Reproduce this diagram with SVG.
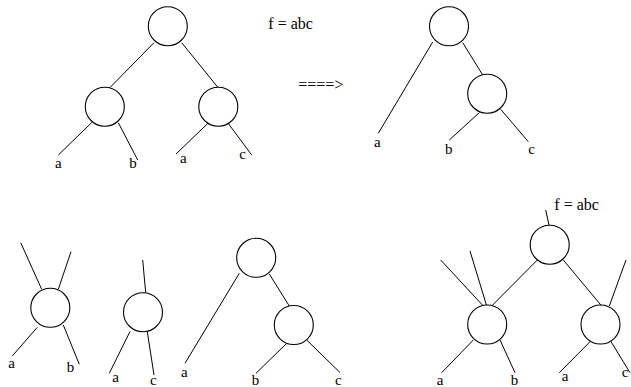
<svg xmlns="http://www.w3.org/2000/svg" width="631" height="387" viewBox="0 0 631 387">
<style>
.n{fill:#fff;stroke:#000;stroke-width:1.1}
.e{stroke:#000;stroke-width:1;fill:none}
</style>
<rect width="631" height="387" fill="#fff"/>
<g id="connectors">
<line class="e" x1="154" y1="42.7" x2="110" y2="87.5"/>
<line class="e" x1="181.7" y1="42.7" x2="218" y2="87.5"/>
<line class="e" x1="92.3" y1="122" x2="58.3" y2="155"/>
<line class="e" x1="118.3" y1="122.7" x2="137.7" y2="160"/>
<line class="e" x1="209.3" y1="122" x2="176" y2="154"/>
<line class="e" x1="227.7" y1="122.7" x2="251.7" y2="155"/>
<line class="e" x1="432.7" y1="42" x2="378.3" y2="133.3"/>
<line class="e" x1="462.7" y1="42.7" x2="482.7" y2="75"/>
<line class="e" x1="479.3" y1="112.7" x2="449.3" y2="140"/>
<line class="e" x1="500.7" y1="109.3" x2="528.3" y2="141.7"/>
<line class="e" x1="20.7" y1="242.7" x2="41.7" y2="289.3"/>
<line class="e" x1="71" y1="251.7" x2="58.3" y2="289.3"/>
<line class="e" x1="37.3" y1="327.3" x2="12.3" y2="356"/>
<line class="e" x1="63.3" y1="325" x2="79.3" y2="364.3"/>
<line class="e" x1="142.7" y1="260" x2="145.7" y2="292.7"/>
<line class="e" x1="130" y1="331.5" x2="109.3" y2="373.3"/>
<line class="e" x1="147.3" y1="331.7" x2="154" y2="375"/>
<line class="e" x1="239.3" y1="273.3" x2="185" y2="363.3"/>
<line class="e" x1="269.3" y1="274" x2="289.3" y2="306"/>
<line class="e" x1="286" y1="344" x2="256" y2="373.3"/>
<line class="e" x1="306.7" y1="340" x2="340" y2="372.5"/>
<line class="e" x1="545.7" y1="210" x2="549" y2="225"/>
<line class="e" x1="537.3" y1="260" x2="491.7" y2="306"/>
<line class="e" x1="563.3" y1="260" x2="601.7" y2="306"/>
<line class="e" x1="440.7" y1="260" x2="483.3" y2="306"/>
<line class="e" x1="470" y1="251" x2="486.7" y2="306"/>
<line class="e" x1="626" y1="260" x2="609.3" y2="306"/>
<line class="e" x1="473.3" y1="340" x2="441.7" y2="372.7"/>
<line class="e" x1="500" y1="340" x2="515" y2="372.7"/>
<line class="e" x1="591.7" y1="340" x2="559.3" y2="372.7"/>
<line class="e" x1="610" y1="340" x2="630" y2="372.7"/>
</g>
<g id="n1"><circle class="n" cx="167.8" cy="26.2" r="19.5"/></g>
<g id="n2"><circle class="n" cx="104.8" cy="106.7" r="19.5"/></g>
<g id="n3"><circle class="n" cx="218.3" cy="106.7" r="19.5"/></g>
<g id="n4"><circle class="n" cx="449" cy="26.3" r="19.5"/></g>
<g id="n5"><circle class="n" cx="487.2" cy="93.7" r="19.5"/></g>
<g id="n6"><circle class="n" cx="50.3" cy="307.8" r="19.5"/></g>
<g id="n7"><circle class="n" cx="143" cy="312.2" r="19.5"/></g>
<g id="n8"><circle class="n" cx="256.2" cy="257.8" r="19.5"/></g>
<g id="n9"><circle class="n" cx="293.8" cy="325" r="19.5"/></g>
<g id="n10"><circle class="n" cx="549.7" cy="244.7" r="19.5"/></g>
<g id="n11"><circle class="n" cx="487.2" cy="324.5" r="19.5"/></g>
<g id="n12"><circle class="n" cx="600.5" cy="324.5" r="19.5"/></g>
<g id="labels" font-family="'Liberation Serif', 'Times New Roman', serif" font-size="15" fill="#000">
<text font-size="16" x="268.3" y="28.5">f = abc</text>
<text font-size="16" x="298.3" y="90">====&gt;</text>
<text x="55" y="168.3">a</text>
<text x="129.3" y="168.3">b</text>
<text x="180" y="162.7">a</text>
<text x="239.3" y="159">c</text>
<text x="374" y="146.7">a</text>
<text x="445" y="154">b</text>
<text x="528.3" y="154">c</text>
<text x="8.3" y="368.3">a</text>
<text x="66.7" y="372.3">b</text>
<text x="112.3" y="381.7">a</text>
<text x="150" y="385">c</text>
<text x="181" y="376.7">a</text>
<text x="251.7" y="385">b</text>
<text x="335" y="385">c</text>
<text font-size="16" x="554.3" y="210">f = abc</text>
<text x="436.7" y="385">a</text>
<text x="510.7" y="385">b</text>
<text x="561.7" y="380.7">a</text>
<text x="621.7" y="376.7">c</text>
</g>
</svg>
